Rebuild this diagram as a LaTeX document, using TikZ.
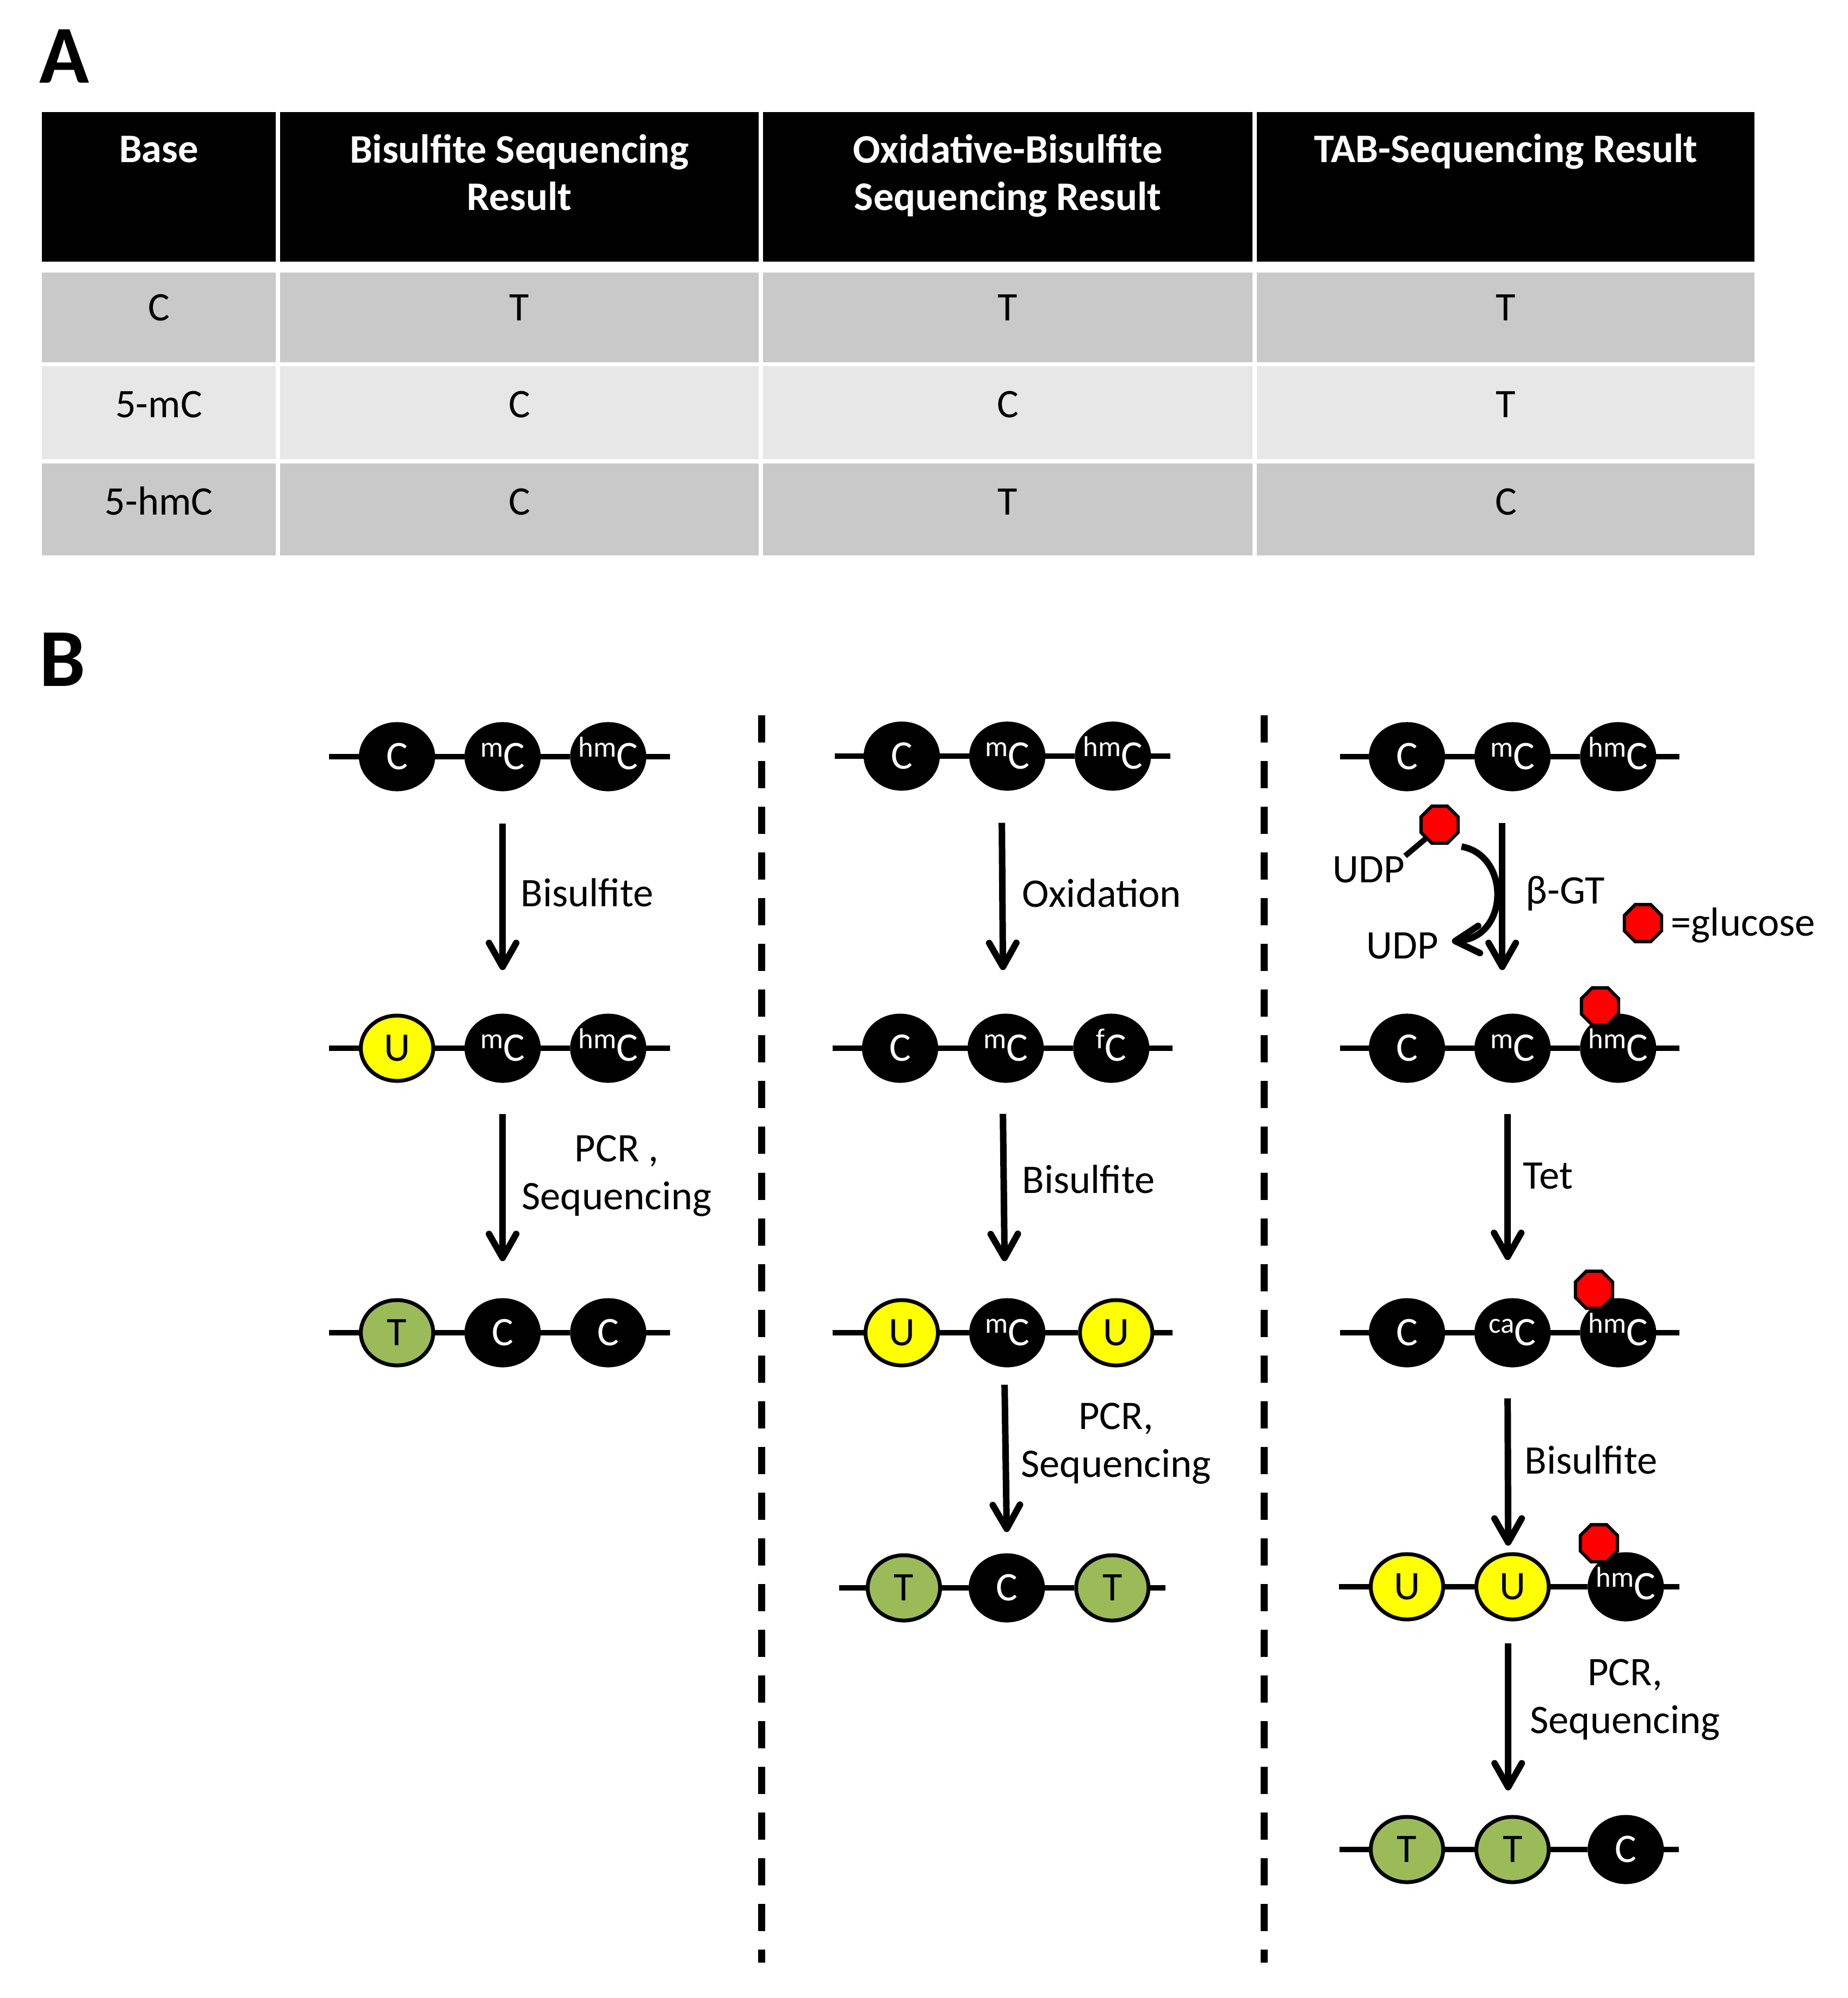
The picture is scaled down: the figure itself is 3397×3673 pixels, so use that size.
\documentclass[tikz,border=0pt]{standalone}
\usepackage{fontspec}
\setmainfont{Carlito}
\usetikzlibrary{arrows.meta,positioning,shapes.geometric}
\definecolor{BaseYellow}{HTML}{FFFF00}
\definecolor{BaseGreen}{HTML}{9BBB59}
\definecolor{GlcRed}{HTML}{FF0000}
\definecolor{RowDark}{HTML}{C9C9C9}
\definecolor{RowLight}{HTML}{E7E7E7}
\newcommand{\modpre}[1]{\raisebox{0.235cm}{\fontsize{15}{15}\selectfont #1}}
\tikzset{
  nuc/.style={ellipse, draw=black, line width=2pt, fill=black, text=white, minimum width=1.33cm, minimum height=1.2cm, inner xsep=-0.25cm, inner ysep=0pt, text height=0.47cm, text depth=0cm},
  nucU/.style={nuc, fill=BaseYellow, text=black},
  nucT/.style={nuc, fill=BaseGreen, text=black},
  glc/.style={regular polygon, regular polygon sides=8, draw=black, line width=1.7pt, fill=GlcRed, minimum size=0.74cm},
  strand/.style={line width=3.1pt},
  react/.style={line width=3.4pt, -{Straight Barb[length=4.4mm, width=5mm, round]}},
  divider/.style={line width=3.7pt, dash pattern=on 0.5cm off 0.34cm},
  lbl/.style={anchor=base west},
  steplbl/.style={anchor=base, align=center},
  hdtext/.style={anchor=base, align=center, text=white, font=\fontsize{21.2}{25}\selectfont\bfseries},
  celltext/.style={anchor=base},
  panel label/.style={anchor=base west, font=\fontsize{43}{43}\selectfont\bfseries}
}
\begin{document}
\begin{tikzpicture}[x=0.01cm, y=-0.01cm, node distance=0.54cm, every node/.style={font=\fontsize{21.2}{25}\selectfont, inner sep=0pt}]
  \useasboundingbox (0,0) rectangle (3397,3673);

  % panel A: result table
  \node[panel label] (labA) at (72,153) {A};
  \fill[black] (77,206) rectangle (507,481);
  \fill[black] (515,206) rectangle (1395,481);
  \fill[black] (1403,206) rectangle (2303,481);
  \fill[black] (2311,206) rectangle (3226,481);
  \fill[RowDark] (77,501) rectangle (507,666);
  \fill[RowDark] (515,501) rectangle (1395,666);
  \fill[RowDark] (1403,501) rectangle (2303,666);
  \fill[RowDark] (2311,501) rectangle (3226,666);
  \fill[RowLight] (77,673) rectangle (507,844);
  \fill[RowLight] (515,673) rectangle (1395,844);
  \fill[RowLight] (1403,673) rectangle (2303,844);
  \fill[RowLight] (2311,673) rectangle (3226,844);
  \fill[RowDark] (77,852) rectangle (507,1021);
  \fill[RowDark] (515,852) rectangle (1395,1021);
  \fill[RowDark] (1403,852) rectangle (2303,1021);
  \fill[RowDark] (2311,852) rectangle (3226,1021);

  % multi-line nodes sit on the baseline of their last line
  \node[hdtext] (hdBase) at (292,299) {Base};
  \node[hdtext] (hdBS) at (955,387) {Bisulfite Sequencing\\Result};
  \node[hdtext] (hdOx) at (1853,387) {Oxidative-Bisulfite\\Sequencing Result};
  \node[hdtext] (hdTAB) at (2769,299) {TAB-Sequencing Result};

  \node[celltext] (cC) at (292,589) {C};
  \node[celltext] (cCbs) at (955,589) {T};
  \node[celltext] (cCox) at (1853,589) {T};
  \node[celltext] (cCtab) at (2769,589) {T};
  \node[celltext] (cM) at (292,767) {5-mC};
  \node[celltext] (cMbs) at (955,767) {C};
  \node[celltext] (cMox) at (1853,767) {C};
  \node[celltext] (cMtab) at (2769,767) {T};
  \node[celltext] (cH) at (292,946) {5-hmC};
  \node[celltext] (cHbs) at (955,946) {C};
  \node[celltext] (cHox) at (1853,946) {T};
  \node[celltext] (cHtab) at (2769,946) {C};

  % panel B: three workflows
  \node[panel label] (labB) at (72,1261) {B};
  \coordinate (divAt) at (1400,1315);
  \coordinate (divAb) at (1400,3608);
  \coordinate (divBt) at (2324,1315);
  \coordinate (divBb) at (2324,3608);
  \draw[divider] (divAt) -- (divAb);
  \draw[divider] (divBt) -- (divBb);

  % bisulfite sequencing
  \node[nuc] (bsA1) at (730,1391) {C};
  \node[nuc, right=of bsA1] (bsA2) {\modpre{m}C};
  \node[nuc, right=of bsA2] (bsA3) {\modpre{hm}C};
  \node[nucU] (bsB1) at (730,1927) {U};
  \node[nuc, right=of bsB1] (bsB2) {\modpre{m}C};
  \node[nuc, right=of bsB2] (bsB3) {\modpre{hm}C};
  \node[nucT] (bsC1) at (730,2450) {T};
  \node[nuc, right=of bsC1] (bsC2) {C};
  \node[nuc, right=of bsC2] (bsC3) {C};
  \coordinate (bsA0) at (605,1391); \coordinate (bsA4) at (1232,1391);
  \coordinate (bsB0) at (605,1927); \coordinate (bsB4) at (1232,1927);
  \coordinate (bsC0) at (605,2450); \coordinate (bsC4) at (1232,2450);
  \draw[strand] (bsA0) -- (bsA1) -- (bsA2) -- (bsA3) -- (bsA4);
  \draw[strand] (bsB0) -- (bsB1) -- (bsB2) -- (bsB3) -- (bsB4);
  \draw[strand] (bsC0) -- (bsC1) -- (bsC2) -- (bsC3) -- (bsC4);
  \draw[react] ([yshift=-0.59cm]bsA2.south) -- ([yshift=0.8cm]bsB2.north);
  \draw[react] ([yshift=-0.57cm]bsB2.south) -- ([yshift=0.68cm]bsC2.north);
  \node[lbl] (bsStep1) at (957,1666) {Bisulfite};
  \node[steplbl] (bsStep2) at (1134,2223) {PCR ,\\Sequencing};

  % oxidative bisulfite sequencing
  \node[nuc] (oxA1) at (1658,1390) {C};
  \node[nuc, right=of oxA1] (oxA2) {\modpre{m}C};
  \node[nuc, right=of oxA2] (oxA3) {\modpre{hm}C};
  \node[nuc] (oxB1) at (1655,1927) {C};
  \node[nuc, right=of oxB1] (oxB2) {\modpre{m}C};
  \node[nuc, right=of oxB2] (oxB3) {\modpre{f}C};
  \node[nucU] (oxC1) at (1658,2450) {U};
  \node[nuc, right=of oxC1] (oxC2) {\modpre{m}C};
  \node[nucU, right=of oxC2, xshift=0.06cm] (oxC3) {U};
  \node[nucT] (oxD1) at (1662,2919) {T};
  \node[nuc, right=of oxD1, xshift=-0.05cm] (oxD2) {C};
  \node[nucT, right=of oxD2] (oxD3) {T};
  \coordinate (oxA0) at (1535,1390); \coordinate (oxA4) at (2152,1390);
  \coordinate (oxB0) at (1531,1927); \coordinate (oxB4) at (2156,1927);
  \coordinate (oxC0) at (1531,2450); \coordinate (oxC4) at (2156,2450);
  \coordinate (oxD0) at (1543,2919); \coordinate (oxD4) at (2143,2919);
  \draw[strand] (oxA0) -- (oxA1) -- (oxA2) -- (oxA3) -- (oxA4);
  \draw[strand] (oxB0) -- (oxB1) -- (oxB2) -- (oxB3) -- (oxB4);
  \draw[strand] (oxC0) -- (oxC1) -- (oxC2) -- (oxC3) -- (oxC4);
  \draw[strand] (oxD0) -- (oxD1) -- (oxD2) -- (oxD3) -- (oxD4);
  \draw[react] ([xshift=-0.1cm, yshift=-0.59cm]oxA2.south) -- ([xshift=-0.05cm, yshift=0.8cm]oxB2.north);
  \draw[react] ([xshift=-0.05cm, yshift=-0.57cm]oxB2.south) -- ([xshift=-0.05cm, yshift=0.68cm]oxC2.north);
  \draw[react] ([xshift=-0.05cm, yshift=-0.32cm]oxC2.south) -- ([yshift=0.39cm]oxD2.north);
  \node[lbl] (oxStep1) at (1879,1667) {Oxidation};
  \node[lbl] (oxStep2) at (1879,2193) {Bisulfite};
  \node[steplbl] (oxStep3) at (2052,2715) {PCR,\\Sequencing};

  % TAB sequencing
  \node[nuc] (tbA1) at (2587,1391) {C};
  \node[nuc, right=of tbA1] (tbA2) {\modpre{m}C};
  \node[nuc, right=of tbA2] (tbA3) {\modpre{hm}C};
  \node[nuc] (tbB1) at (2587,1927) {C};
  \node[nuc, right=of tbB1] (tbB2) {\modpre{m}C};
  \node[nuc, right=of tbB2] (tbB3) {\modpre{hm}C};
  \node[nuc] (tbC1) at (2587,2450) {C};
  \node[nuc, right=of tbC1] (tbC2) {\modpre{ca}C};
  \node[nuc, right=of tbC2] (tbC3) {\modpre{hm}C};
  \node[nucU] (tbD1) at (2587,2917) {U};
  \node[nucU, right=of tbD1] (tbD2) {U};
  \node[nuc, right=of tbD2, xshift=0.14cm] (tbD3) {\modpre{hm}C};
  \node[nucT] (tbE1) at (2587,3400) {T};
  \node[nucT, right=of tbE1] (tbE2) {T};
  \node[nuc, right=of tbE2, xshift=0.14cm] (tbE3) {C};
  \coordinate (tbA0) at (2464,1391); \coordinate (tbA4) at (3088,1391);
  \coordinate (tbB0) at (2464,1927); \coordinate (tbB4) at (3088,1927);
  \coordinate (tbC0) at (2464,2450); \coordinate (tbC4) at (3088,2450);
  \coordinate (tbD0) at (2462,2917); \coordinate (tbD4) at (3088,2917);
  \coordinate (tbE0) at (2463,3400); \coordinate (tbE4) at (3087,3400);
  \draw[strand] (tbA0) -- (tbA1) -- (tbA2) -- (tbA3) -- (tbA4);
  \draw[strand] (tbB0) -- (tbB1) -- (tbB2) -- (tbB3) -- (tbB4);
  \draw[strand] (tbC0) -- (tbC1) -- (tbC2) -- (tbC3) -- (tbC4);
  \draw[strand] (tbD0) -- (tbD1) -- (tbD2) -- (tbD3) -- (tbD4);
  \draw[strand] (tbE0) -- (tbE1) -- (tbE2) -- (tbE3) -- (tbE4);
  \node[glc] (tbBg) at (2942,1850) {};
  \node[glc] (tbCg) at (2931,2371) {};
  \node[glc] (tbDg) at (2940,2837) {};
  \draw[react] ([xshift=-0.19cm, yshift=-0.58cm]tbA2.south) -- ([xshift=-0.19cm, yshift=0.8cm]tbB2.north);
  \draw[react] ([xshift=-0.09cm, yshift=-0.57cm]tbB2.south) -- ([xshift=-0.09cm, yshift=0.7cm]tbC2.north);
  \draw[react] ([xshift=-0.09cm, yshift=-0.57cm]tbC2.south) -- ([xshift=-0.08cm, yshift=0.12cm]tbD2.north);
  \draw[react] ([xshift=-0.08cm, yshift=-0.4cm]tbD2.south) -- ([xshift=-0.08cm, yshift=0.45cm]tbE2.north);
  \node[lbl] (tbStep1) at (2805,1661) {β-GT};
  \node[lbl] (tbStep2) at (2800,2185) {Tet};
  \node[lbl] (tbStep3) at (2803,2709) {Bisulfite};
  \node[steplbl] (tbStep4) at (2988,3186) {PCR,\\Sequencing};

  % glucose transfer from UDP-glucose
  \node[glc] (udpglc) at (2647,1516) {};
  \node[lbl] (udpIn) at (2450,1622) {UDP};
  \node[lbl] (udpOut) at (2512,1762) {UDP};
  \draw[line width=2.9pt] (udpIn.north east) -- (udpglc.south west);
  \draw[react] ([shift={(14,14)}]udpglc.south east) .. controls +(90,16) and +(106,-7) .. ([xshift=0.24cm, yshift=0.08cm]udpOut.east);
  \node[glc] (glcKey) at (3021,1697) {};
  \node[lbl] (glcText) at (3072,1720) {=glucose};
\end{tikzpicture}
\end{document}
